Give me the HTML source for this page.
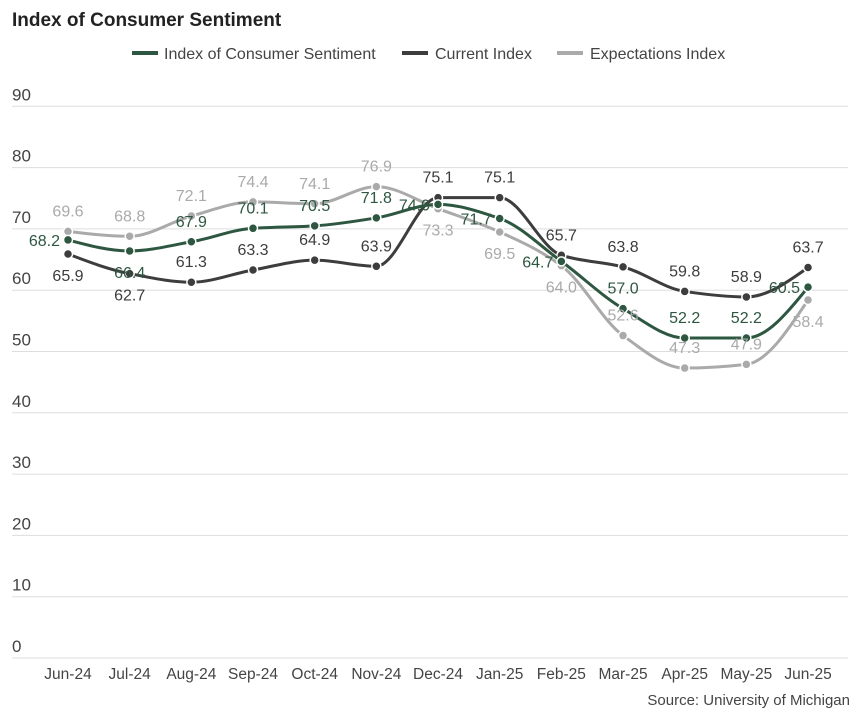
<!DOCTYPE html>
<html><head><meta charset="utf-8"><style>
body{margin:0;background:#fff;font-family:"Liberation Sans",sans-serif;}
svg{display:block}
</style></head><body>
<svg id="c" width="864" height="713">
<text x="12" y="26" font-size="19" font-weight="bold" fill="#222">Index of Consumer Sentiment</text>
<g font-size="16" fill="#444">
<g><line x1="132" y1="53" x2="158" y2="53" stroke="#2e5741" stroke-width="4"/><text x="164" y="59">Index of Consumer Sentiment</text></g>
<g><line x1="402" y1="53" x2="428" y2="53" stroke="#3d3d3d" stroke-width="4"/><text x="435" y="59">Current Index</text></g>
<g><line x1="557" y1="53" x2="583" y2="53" stroke="#aaaaaa" stroke-width="4"/><text x="590" y="59">Expectations Index</text></g>
</g>
<g id="grid"></g><g id="lines"></g><g id="labels"></g>
<text x="850" y="705" font-size="15" fill="#444" text-anchor="end">Source: University of Michigan</text>
</svg>
<script>
const categories=["Jun-24","Jul-24","Aug-24","Sep-24","Oct-24","Nov-24","Dec-24","Jan-25","Feb-25","Mar-25","Apr-25","May-25","Jun-25"];
const icsValues=[68.2,66.4,67.9,70.1,70.5,71.8,74.0,71.7,64.7,57.0,52.2,52.2,60.5];
const currentValues=[65.9,62.7,61.3,63.3,64.9,63.9,75.1,75.1,65.7,63.8,59.8,58.9,63.7];
const expectationsValues=[69.6,68.8,72.1,74.4,74.1,76.9,73.3,69.5,64.0,52.6,47.3,47.9,58.4];
const yTicks=[0,10,20,30,40,50,60,70,80,90];
const NS="http://www.w3.org/2000/svg";
const X=i=>68+61.67*i, Y=v=>658-6.13*v;
function mk(t,a,p){const e=document.createElementNS(NS,t);for(const k in a)e.setAttribute(k,a[k]);p.appendChild(e);return e;}
const grid=document.getElementById('grid');
yTicks.forEach(t=>{
 const l=mk('line',{x1:12,x2:848,y1:Y(t),y2:Y(t),stroke:'#ddd','stroke-width':1},grid);
 
 
 const tx=mk('text',{x:12,y:Y(t)-6,'font-size':17,fill:'#444'},grid);tx.textContent=t;
 
 
});
categories.forEach((c,i)=>{
 const tx=mk('text',{x:X(i),y:679,'font-size':15.5,fill:'#444','text-anchor':'middle'},grid);tx.textContent=c;
 
 
});
function monotone(xs,ys){
 const n=xs.length,d=[],m=[];
 for(let i=0;i<n-1;i++)d.push((ys[i+1]-ys[i])/(xs[i+1]-xs[i]));
 m[0]=d[0];m[n-1]=d[n-2];
 for(let i=1;i<n-1;i++){ if(d[i-1]*d[i]<=0)m[i]=0; else{const h0=xs[i]-xs[i-1],h1=xs[i+1]-xs[i];m[i]=3*(h0+h1)/((2*h1+h0)/d[i-1]+(h1+2*h0)/d[i]);}}
 m[0]=(3*d[0]-m[1])/2; m[n-1]=(3*d[n-2]-m[n-2])/2;
 if(d[0]===0)m[0]=0; if(d[n-2]===0)m[n-1]=0;
 let p='M'+xs[0]+','+ys[0];
 for(let i=0;i<n-1;i++){const h=(xs[i+1]-xs[i])/3;p+=' C'+(xs[i]+h)+','+(ys[i]+m[i]*h)+' '+(xs[i+1]-h)+','+(ys[i+1]-m[i+1]*h)+' '+xs[i+1]+','+ys[i+1];}
 return p;
}
const series=[
 {name:'expectations',vals:expectationsValues,color:'#aaaaaa',lab:'#aaaaaa',pos:'aaaaaabbbaaab'},
 {name:'current',vals:currentValues,color:'#3d3d3d',lab:'#3d3d3d',pos:'bbaaaaaaaaaaa'},
 {name:'ics',vals:icsValues,color:'#2e5741',lab:'#2e5741',pos:'lbaaaalllaaal'}
];
const lines=document.getElementById('lines'),labels=document.getElementById('labels');
series.forEach(s=>{
 const xs=s.vals.map((v,i)=>X(i)),ys=s.vals.map(v=>Y(v));
 const p=mk('path',{d:monotone(xs,ys),fill:'none',stroke:s.color,'stroke-width':3},lines);
 
 
 s.vals.forEach((v,i)=>{
  const c=mk('circle',{cx:X(i),cy:Y(v),r:4.5,fill:s.color,stroke:'#fff','stroke-width':1.5},lines);
  
  
  const k=s.pos[i];let x=X(i),y=Y(v),anc='middle';
  if(k==='a')y-=15;else if(k==='b')y+=27;else{x-=8;y+=6;anc='end';}
  const t=mk('text',{x:x,y:y,'font-size':16,fill:s.lab,'text-anchor':anc},labels);
  t.textContent=v.toFixed(1);
  
  
 });
});
</script>
</body></html>
